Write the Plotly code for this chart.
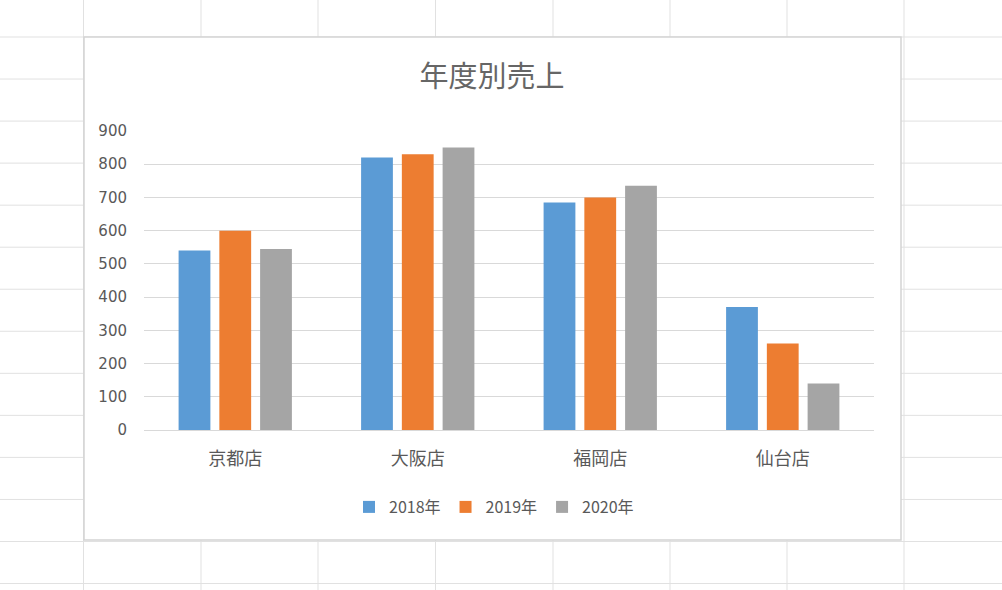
import plotly.graph_objects as go

# data
stores = ["京都店", "大阪店", "福岡店", "仙台店"]
years = ["2018年", "2019年", "2020年"]
sales_2018 = [540, 820, 685, 370]
sales_2019 = [600, 830, 700, 260]
sales_2020 = [545, 850, 735, 140]
colors = ["#5B9BD5", "#ED7D31", "#A5A5A5"]

W, H = 1002, 590
L, R, T, B = 144, 874, 131, 430   # plot area in pixels


def px_x(x):
    return (x - L) / (R - L)


def px_y(y):
    return (B - y) / (B - T)


fig = go.Figure()
for name, vals, c in zip(years, [sales_2018, sales_2019, sales_2020], colors):
    fig.add_trace(go.Bar(x=stores, y=vals, name=name, marker_color=c,
                         marker_line_width=0))

# spreadsheet cells behind the chart
shapes = []
grid = "#E1E1E1"
for gx in [83.5, 201, 318, 435.5, 553, 670, 787, 904]:
    shapes.append(dict(type="line", xref="paper", yref="paper",
                       x0=px_x(gx), x1=px_x(gx), y0=px_y(0), y1=px_y(H),
                       line=dict(color=grid, width=1), layer="below"))
for k in range(14):
    gy = 37 + 42.04 * k
    shapes.append(dict(type="line", xref="paper", yref="paper",
                       x0=px_x(0), x1=px_x(W), y0=px_y(gy), y1=px_y(gy),
                       line=dict(color=grid, width=1), layer="below"))
# chart area box
shapes.append(dict(type="rect", xref="paper", yref="paper",
                   x0=px_x(84), x1=px_x(901), y0=px_y(37), y1=px_y(540),
                   fillcolor="white", line=dict(color="#D4D4D4", width=1.5),
                   layer="below"))

fig.update_layout(
    width=W, height=H,
    margin=dict(l=L, r=W - R, t=T, b=H - B),
    paper_bgcolor="white",
    plot_bgcolor="rgba(0,0,0,0)",
    font=dict(family="Noto Sans CJK JP", color="#595959"),
    title=dict(text="年度別売上", xref="container", yref="container",
               x=492 / W, xanchor="center", y=1 - 77 / H, yanchor="middle",
               font=dict(size=29, color="#666666")),
    barmode="group", bargap=0.33, bargroupgap=0.22,
    showlegend=True,
    legend=dict(orientation="h", x=px_x(494), xanchor="center",
                y=px_y(507), yanchor="middle", font=dict(size=16),
                bgcolor="rgba(0,0,0,0)"),
    shapes=shapes,
)
fig.update_yaxes(range=[0, 900], dtick=100, showgrid=True, gridcolor="#D9D9D9",
                 gridwidth=1, zeroline=False, showline=False,
                 tickfont=dict(size=15, family="DejaVu Sans", color="#595959"),
                 ticklabelstandoff=16)
fig.update_xaxes(showgrid=False, showline=True, linecolor="#D9D9D9", linewidth=1,
                 tickfont=dict(size=18, color="#595959"), ticks="",
                 ticklabelstandoff=12)

# drop the default page margin so the figure sits at the window corner
fig.write_html("out.html", config={"displayModeBar": False},
               post_script="document.body.style.margin='0';")
